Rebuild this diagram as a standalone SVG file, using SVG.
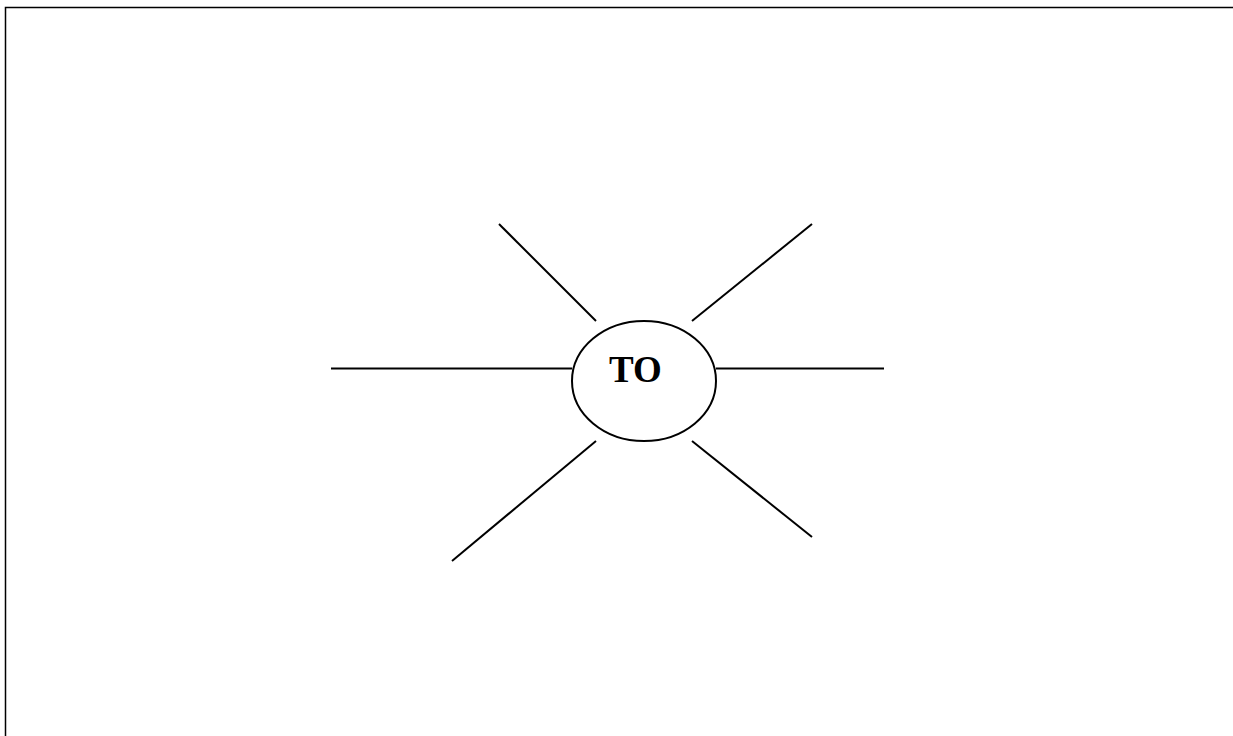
<svg xmlns="http://www.w3.org/2000/svg" width="1233" height="736" viewBox="0 0 1233 736">
<style>
.ln{stroke:#000;stroke-width:2;fill:none}
.frame{stroke:#000;stroke-width:1.5;fill:none}
.lbl{font-family:"Liberation Serif","Times New Roman",serif;font-weight:bold;font-size:37px;fill:#000}
</style>
<rect width="1233" height="736" fill="#fff"/>
<g id="frame">
<polyline class="frame" points="5.5,736 5.5,7.5 1233,7.5"/>
</g>
<g id="connectors">
<line class="ln" x1="499" y1="224" x2="596" y2="321"/>
<line class="ln" x1="812" y1="224" x2="692" y2="321"/>
<line class="ln" x1="331" y1="368.5" x2="572" y2="368.5"/>
<line class="ln" x1="716" y1="368.5" x2="884" y2="368.5"/>
<line class="ln" x1="596" y1="441" x2="452" y2="561"/>
<line class="ln" x1="692" y1="441" x2="812" y2="537"/>
</g>
<g id="node-to">
<ellipse class="ln" cx="644" cy="381" rx="72" ry="60"/>
<text class="lbl" x="609" y="382">TO</text>
</g>
</svg>
